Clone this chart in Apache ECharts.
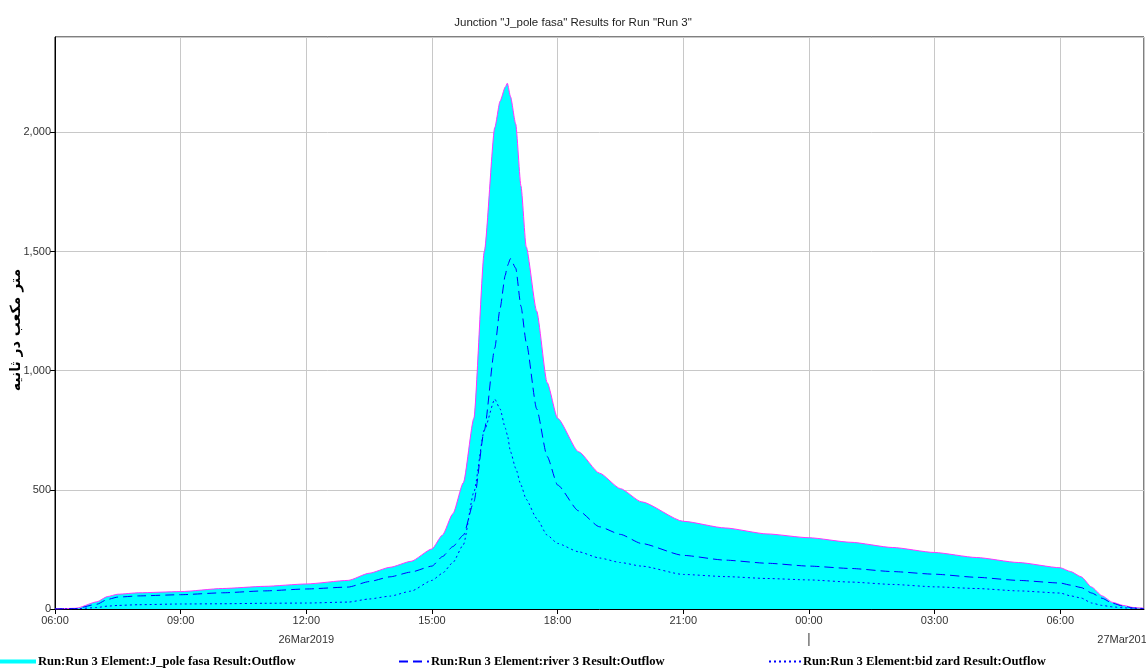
<!DOCTYPE html>
<html>
<head>
<meta charset="utf-8">
<script src="https://cdn.jsdelivr.net/npm/echarts@6/dist/echarts.min.js"></script>
<style>
html,body{margin:0;padding:0;background:#fff;}
#chart{width:1146px;height:668px;}
</style>
</head>
<body>
<div id="chart"></div>
<script>
// hours since 26Mar2019 06:00
const times = [0,0.5,1,1.25,1.5,2,3,4,5,6,7,7.5,8,8.5,9,9.25,9.5,9.75,10,10.25,10.5,10.625,10.75,10.8,10.875,11,11.125,11.25,11.5,11.75,12,12.5,13,13.5,14,15,16,17,18,19,20,21,22,23,24,24.25,24.5,24.75,25,25.25,25.5,25.75,26];
const outflow = [0,3,30,52,62,68,73,86,95,105,120,150,175,200,252,310,400,530,800,1500,2020,2130,2190,2206,2150,2035,1775,1520,1250,950,800,660,570,505,450,368,340,315,299,280,258,237,216,195,173,157,135,92,55,28,15,6,3];
const river3 = [0,2,20,40,50,55,60,68,76,84,92,115,135,155,180,220,262,310,450,750,1095,1260,1400,1440,1470,1430,1270,1120,840,640,520,412,345,313,275,225,205,192,180,170,157,146,133,120,109,100,90,67,45,24,12,4,2];
const bidZard = [0,1,6,12,15,18,21,22,24,25,29,42,54,75,120,150,195,270,490,750,880,840,760,730,660,590,520,460,380,310,275,240,214,195,180,145,136,128,122,113,103,93,86,76,67,55,46,25,15,9,5,3,2];
const seriesNames = [
  'Run:Run 3 Element:J_pole fasa Result:Outflow',
  'Run:Run 3 Element:river 3 Result:Outflow',
  'Run:Run 3 Element:bid zard Result:Outflow'
];
const titleText = 'Junction "J_pole fasa" Results for Run "Run 3"';
const yAxisName = 'متر مکعب در ثانیه';
const startHour = 6;
const dateLabels = ['26Mar2019', '27Mar2019'];
const dateLabelHours = [6, 25.55];
const dayBoundaryHour = 18;

const zip = (xs, ys) => xs.map((x, i) => [x, ys[i]]);
const pad = n => (n < 10 ? '0' : '') + n;

const chart = echarts.init(document.getElementById('chart'), null, {renderer: 'canvas'});
const legendText = {fontFamily: 'Liberation Serif, "Times New Roman", serif', fontWeight: 'bold', fontSize: 12.6, color: '#000', padding: [0, 0, 0, -3]};
const option = {
  animation: false,
  backgroundColor: '#fff',
  title: {
    text: titleText, left: 'center', top: 12,
    textStyle: {fontFamily: '"Liberation Sans Narrow", "Liberation Sans", Arial, sans-serif', fontWeight: 'normal', fontSize: 11.5, color: '#222'}
  },
  grid: {left: 55, right: 2, top: 37, bottom: 59, containLabel: false, outerBoundsMode: 'none',
         show: true, borderColor: '#000', borderWidth: 1, backgroundColor: 'transparent'},
  xAxis: {
    type: 'value', min: 0, max: 26, interval: 3,
    axisLine: {show: true, lineStyle: {color: '#000'}},
    axisTick: {show: true, length: 5, lineStyle: {color: '#000'}},
    axisLabel: {
      showMaxLabel: false, margin: 6,
      fontFamily: 'Liberation Sans, Arial, sans-serif', fontSize: 11, color: '#333',
      formatter: v => pad((startHour + v) % 24) + ':00'
    },
    splitLine: {show: true, lineStyle: {color: '#c8c8c8', width: 1}}
  },
  yAxis: {
    type: 'value', min: 0, max: 2400, interval: 500,
    axisLine: {show: true, lineStyle: {color: '#000'}},
    axisTick: {show: true, length: 5, lineStyle: {color: '#000'}},
    axisLabel: {
      showMaxLabel: false, margin: 4,
      fontFamily: 'Liberation Sans, Arial, sans-serif', fontSize: 11, color: '#333',
      formatter: v => v.toLocaleString('en-US')
    },
    splitLine: {show: true, lineStyle: {color: '#c8c8c8', width: 1}}
  },
  legend: [
    {data: [{name: seriesNames[0], icon: 'rect', itemStyle: {color: '#00ffff', borderWidth: 0}}],
     left: 0, top: 655, padding: 0, itemWidth: 36, itemHeight: 4, itemGap: 2, textStyle: legendText},
    {data: [{name: seriesNames[1], itemStyle: {opacity: 0}}], left: 398, top: 655, padding: 0,
     itemWidth: 30, itemHeight: 2, textStyle: legendText},
    {data: [{name: seriesNames[2], itemStyle: {opacity: 0}}], left: 768, top: 655, padding: 0,
     itemWidth: 32, itemHeight: 2, textStyle: legendText}
  ],
  series: [
    {
      name: seriesNames[0], type: 'line', data: zip(times, outflow),
      symbol: 'none', smooth: 0.2, smoothMonotone: 'x',
      lineStyle: {color: '#ff33ff', width: 1},
      itemStyle: {color: '#00ffff'},
      areaStyle: {color: '#00ffff', opacity: 1},
      z: 1
    },
    {
      name: seriesNames[1], type: 'line', data: zip(times, river3),
      symbol: 'none', smooth: 0.2, smoothMonotone: 'x',
      lineStyle: {color: '#0000ff', width: 1, type: [9, 5]},
      itemStyle: {color: '#0000ff'},
      z: 3
    },
    {
      name: seriesNames[2], type: 'line', data: zip(times, bidZard),
      symbol: 'none', smooth: 0.2, smoothMonotone: 'x',
      lineStyle: {color: '#0000ff', width: 1, type: [2, 3]},
      itemStyle: {color: '#0000ff'},
      z: 3
    }
  ]
};
chart.setOption(option);

// date labels, day-boundary tick and rotated y-axis title
const base = chart.convertToPixel({gridIndex: 0}, [0, 0]);
const graphics = dateLabels.map((t, i) => {
  const p = chart.convertToPixel({gridIndex: 0}, [dateLabelHours[i], 0]);
  return {type: 'text', x: p[0], y: base[1] + 25, style: {text: t, textAlign: 'center', fontFamily: 'Liberation Sans, Arial, sans-serif', fontSize: 11, fill: '#333'}};
});
const pb = chart.convertToPixel({gridIndex: 0}, [dayBoundaryHour, 0]);
graphics.push({type: 'line', shape: {x1: pb[0], y1: base[1] + 24, x2: pb[0], y2: base[1] + 37}, style: {stroke: '#333', lineWidth: 1}});
graphics.push({type: 'text', x: 16, y: 330, rotation: Math.PI / 2,
  style: {text: yAxisName, textAlign: 'center', textVerticalAlign: 'middle', fontFamily: '"DejaVu Sans", sans-serif', fontWeight: 'bold', fontSize: 14, fill: '#000'}});
chart.setOption({graphic: graphics});
</script>
</body>
</html>
